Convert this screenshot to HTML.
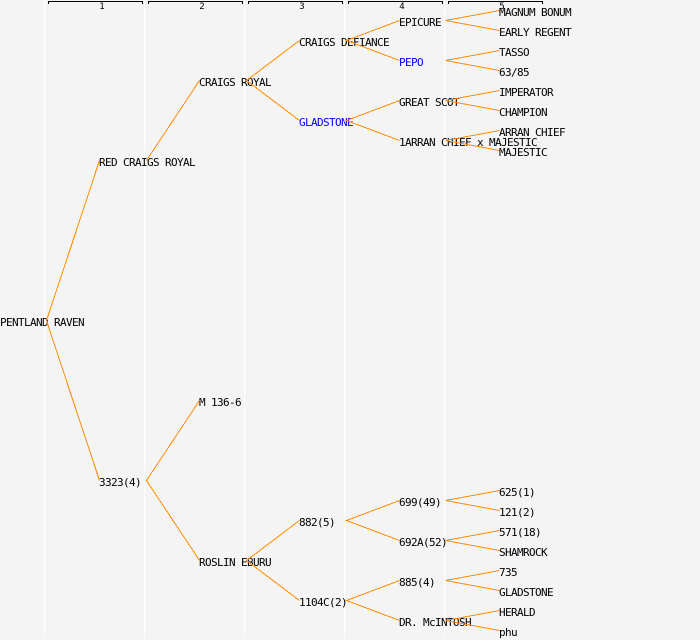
<!DOCTYPE html>
<html>
<head>
<meta charset="utf-8">
<style>
html,body{margin:0;padding:0;background:#f4f4f4;width:700px;height:640px;overflow:hidden}
svg{display:block}
text{font-family:"DejaVu Sans Mono","Liberation Mono",monospace;font-size:11px;letter-spacing:-0.62px;fill:#000}
.b{fill:#0000ff}
.n{font-size:9px;letter-spacing:0;text-anchor:middle}
</style>
</head>
<body>
<svg width="700" height="640" viewBox="0 0 700 640" xmlns="http://www.w3.org/2000/svg">
<rect width="700" height="640" fill="#f4f4f4"/>
<g fill="#ffffff" shape-rendering="crispEdges">
<rect x="44" y="0" width="1" height="638"/>
<rect x="144" y="0" width="1" height="638"/>
<rect x="244" y="0" width="1" height="638"/>
<rect x="344" y="0" width="1" height="638"/>
<rect x="444" y="0" width="1" height="638"/>
</g>
<g fill="none" stroke="#000" stroke-width="1" shape-rendering="crispEdges">
<path d="M48.5 4V1.5H142.5V4"/>
<path d="M148.5 4V1.5H242.5V4"/>
<path d="M248.5 4V1.5H342.5V4"/>
<path d="M348.5 4V1.5H442.5V4"/>
<path d="M448.5 4V1.5H542.5V4"/>
</g>
<text class="n" x="102" y="9">1</text>
<text class="n" x="202" y="9">2</text>
<text class="n" x="302" y="9">3</text>
<text class="n" x="402" y="9">4</text>
<text class="n" x="502" y="9">5</text>
<g>
<text x="0" y="326">PENTLAND RAVEN</text>
<text x="99" y="166">RED CRAIGS ROYAL</text>
<text x="99" y="486">3323(4)</text>
<text x="199" y="86">CRAIGS ROYAL</text>
<text x="199" y="406">M 136-6</text>
<text x="199" y="566">ROSLIN EBURU</text>
<text x="299" y="46">CRAIGS DEFIANCE</text>
<text x="299" y="126" class="b">GLADSTONE</text>
<text x="299" y="526">882(5)</text>
<text x="299" y="606">1104C(2)</text>
<text x="399" y="26">EPICURE</text>
<text x="399" y="66" class="b">PEPO</text>
<text x="399" y="106">GREAT SCOT</text>
<text x="399" y="146">1ARRAN CHIEF x MAJESTIC</text>
<text x="399" y="506">699(49)</text>
<text x="399" y="546">692A(52)</text>
<text x="399" y="586">885(4)</text>
<text x="399" y="626">DR. McINTOSH</text>
<text x="499" y="16">MAGNUM BONUM</text>
<text x="499" y="36">EARLY REGENT</text>
<text x="499" y="56">TASSO</text>
<text x="499" y="76">63/85</text>
<text x="499" y="96">IMPERATOR</text>
<text x="499" y="116">CHAMPION</text>
<text x="499" y="136">ARRAN CHIEF</text>
<text x="499" y="156">MAJESTIC</text>
<text x="499" y="496">625(1)</text>
<text x="499" y="516">121(2)</text>
<text x="499" y="536">571(18)</text>
<text x="499" y="556">SHAMROCK</text>
<text x="499" y="576">735</text>
<text x="499" y="596">GLADSTONE</text>
<text x="499" y="616">HERALD</text>
<text x="499" y="636">phu</text>
</g>
<g fill="none" stroke="#ff8c00" stroke-width="1" shape-rendering="crispEdges" transform="translate(.5 .5)">
<path d="M99 160L46 320L99 480"/>
<path d="M199 80L146 160"/>
<path d="M199 400L146 480L199 560"/>
<path d="M299 40L246 80L299 120"/>
<path d="M299 520L246 560L299 600"/>
<path d="M399 20L346 40L399 60"/>
<path d="M399 100L346 120L399 140"/>
<path d="M399 500L346 520L399 540"/>
<path d="M399 580L346 600L399 620"/>
<path d="M499 10L445 20L499 30"/>
<path d="M499 50L445 60L499 70"/>
<path d="M499 90L445 100L499 110"/>
<path d="M499 130L445 140L499 150"/>
<path d="M499 490L445 500L499 510"/>
<path d="M499 530L445 540L499 550"/>
<path d="M499 570L445 580L499 590"/>
<path d="M499 610L445 620L499 630"/>
</g>
</svg>
</body>
</html>
